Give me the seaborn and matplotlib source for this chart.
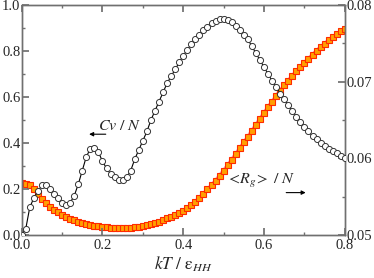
import numpy as np
import pandas as pd
import matplotlib
matplotlib.use("Agg")
import matplotlib.pyplot as plt
import seaborn as sns
from matplotlib.ticker import MultipleLocator

# ---- data ----
kT = [round(0.01 * i, 2) for i in range(81)]

cv = [0.00, 0.026, 0.12, 0.16, 0.19, 0.215, 0.215, 0.20, 0.18, 0.16,
      0.14, 0.13, 0.14, 0.17, 0.22, 0.28, 0.34, 0.375, 0.38, 0.36,
      0.32, 0.29, 0.265, 0.25, 0.24, 0.24, 0.25, 0.28, 0.33, 0.37,
      0.41, 0.45, 0.50, 0.54, 0.58, 0.62, 0.66, 0.69, 0.72, 0.75,
      0.78, 0.805, 0.83, 0.85, 0.87, 0.89, 0.905, 0.92, 0.93, 0.94,
      0.94, 0.935, 0.925, 0.91, 0.89, 0.87, 0.85, 0.82, 0.79, 0.76,
      0.73, 0.70, 0.67, 0.645, 0.615, 0.59, 0.565, 0.54, 0.515, 0.49,
      0.47, 0.45, 0.43, 0.415, 0.40, 0.385, 0.375, 0.365, 0.355, 0.345,
      0.335]

rg = [0.05678, 0.05669, 0.05645, 0.05594, 0.05534, 0.05474, 0.05420, 0.05369, 0.05330, 0.05294,
      0.05264, 0.05237, 0.05213, 0.05192, 0.05174, 0.05156, 0.05141, 0.05129, 0.05120, 0.05111,
      0.05105, 0.05099, 0.05093, 0.05090, 0.05090, 0.05090, 0.05090, 0.05093, 0.05099, 0.05105,
      0.05114, 0.05126, 0.05138, 0.05156, 0.05174, 0.05195, 0.05219, 0.05240, 0.05264, 0.05288,
      0.05318, 0.05351, 0.05390, 0.05435, 0.05486, 0.05540, 0.05594, 0.05648, 0.05708, 0.05774,
      0.05840, 0.05909, 0.05981, 0.06056, 0.06131, 0.06206, 0.06281, 0.06359, 0.06437, 0.06515,
      0.06593, 0.06668, 0.06740, 0.06812, 0.06884, 0.06950, 0.07013, 0.07076, 0.07136, 0.07193,
      0.07247, 0.07301, 0.07352, 0.07403, 0.07451, 0.07496, 0.07541, 0.07583, 0.07622, 0.07658,
      0.07691]

xticks = [0.0, 0.2, 0.4, 0.6, 0.8]
yticks_left = [0.0, 0.2, 0.4, 0.6, 0.8, 1.0]
yticks_right = [0.05, 0.06, 0.07, 0.08]

df = pd.DataFrame({"kT": kT, "cv": cv, "rg": rg})

# ---- style ----
sns.set_theme(style="ticks")
plt.rcParams["font.family"] = ["Liberation Serif", "DejaVu Serif"]
plt.rcParams["mathtext.fontset"] = "stix"
plt.rcParams["xtick.direction"] = "in"
plt.rcParams["ytick.direction"] = "in"

fig = plt.figure(figsize=(3.74, 2.78), dpi=100)
ax = fig.add_axes([0.058, 0.155, 0.864, 0.827])
ax2 = ax.twinx()

spine_col = "#707070"
tsize = 10.5

sns.lineplot(data=df, x="kT", y="cv", ax=ax, color="black", lw=0.8,
             marker="o", markersize=4.4, markerfacecolor="white",
             markeredgecolor="#333333", markeredgewidth=0.7, zorder=3)
sns.lineplot(data=df, x="kT", y="rg", ax=ax2, color="#ff8a80", lw=2.6,
             marker="s", markersize=3.8, markerfacecolor="#ffa000",
             markeredgecolor="#ff2a00", markeredgewidth=0.8, zorder=2)

ax.set_xlim(0, 0.8)
ax.set_ylim(0, 1.0)
ax2.set_ylim(0.05, 0.08)
ax.set_xticks(xticks)
ax.set_xticklabels([f"{v:.1f}" for v in xticks])
ax.set_yticks(yticks_left)
ax.set_yticklabels([f"{v:.1f}" for v in yticks_left])
ax2.set_yticks(yticks_right)
ax2.set_yticklabels([f"{v:.2f}" for v in yticks_right])
ax.xaxis.set_minor_locator(MultipleLocator(0.1))
ax.yaxis.set_minor_locator(MultipleLocator(0.1))
ax2.yaxis.set_minor_locator(MultipleLocator(0.005))

for a in (ax, ax2):
    for s in a.spines.values():
        s.set_visible(True)
        s.set_color(spine_col)
        s.set_linewidth(1.0)
    a.set_xlabel("")
    a.set_ylabel("")

ax.tick_params(axis="x", which="both", top=True, bottom=True, direction="in",
               color=spine_col, labelsize=tsize, pad=3)
ax.tick_params(axis="x", which="major", length=5)
ax.tick_params(axis="x", which="minor", length=2.5)
ax.tick_params(axis="y", which="major", length=5, direction="in", color=spine_col,
               labelsize=tsize, pad=1)
ax.tick_params(axis="y", which="minor", length=2.5, direction="in", color=spine_col)
ax2.tick_params(axis="y", which="major", length=5, direction="in", color=spine_col,
                labelsize=tsize, pad=1)
ax2.tick_params(axis="y", which="minor", length=2.5, direction="in", color=spine_col)

ax.set_xlabel(r"$kT\ /\ \mathrm{\varepsilon}_{HH}$", fontsize=12.5, labelpad=2)

ax.text(0.19, 0.455, r"$Cv\ /\ N$", fontsize=11.5)
ax.annotate("", xy=(0.16, 0.438), xytext=(0.215, 0.438),
            arrowprops=dict(arrowstyle="-|>", color="black", lw=0.8,
                            mutation_scale=6))
ax.text(0.505, 0.22, r"$<\!R_g\!>\ /\ N$", fontsize=11.5)
ax.annotate("", xy=(0.71, 0.184), xytext=(0.648, 0.184),
            arrowprops=dict(arrowstyle="-|>", color="black", lw=0.8,
                            mutation_scale=6))

ax.set_zorder(ax2.get_zorder() + 1)
ax.patch.set_visible(False)

fig.savefig("out.png", dpi=100)
